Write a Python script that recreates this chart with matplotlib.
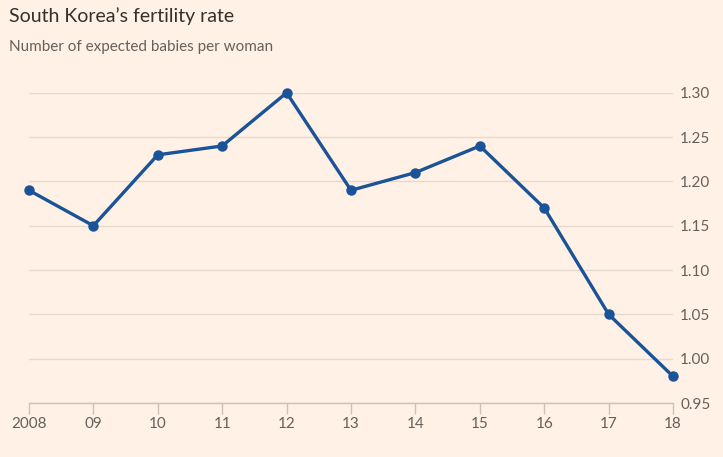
import matplotlib
matplotlib.use("Agg")
import matplotlib.pyplot as plt

# data
years = [2008, 2009, 2010, 2011, 2012, 2013, 2014, 2015, 2016, 2017, 2018]
year_labels = ["2008", "09", "10", "11", "12", "13", "14", "15", "16", "17", "18"]
fertility = [1.19, 1.15, 1.23, 1.24, 1.30, 1.19, 1.21, 1.24, 1.17, 1.05, 0.98]
y_ticks = [0.95, 1.00, 1.05, 1.10, 1.15, 1.20, 1.25, 1.30]

BG = "#FFF1E5"
GRID = "#E6D9CE"
TEXT = "#66605C"
LINE = "#1A5397"

plt.rcParams['font.family'] = ['Lato', 'DejaVu Sans']

fig = plt.figure(figsize=(7.23, 4.57), dpi=100, facecolor=BG)
ax = fig.add_axes([0.040, 0.118, 0.891, 0.679], facecolor=BG)

ax.plot(years, fertility, color=LINE, linewidth=2.4, marker='o', markersize=6.5,
        zorder=3, clip_on=False)

ax.set_xlim(2008, 2018)
ax.set_ylim(0.95, 1.30)
ax.set_xticks(years)
ax.set_xticklabels(year_labels)
ax.set_yticks(y_ticks)
ax.set_yticklabels([f"{v:.2f}" for v in y_ticks])

ax.yaxis.tick_right()
ax.grid(axis='y', color=GRID, linewidth=1)
ax.tick_params(axis='y', length=0, pad=5, labelsize=11, labelcolor=TEXT)
ax.tick_params(axis='x', length=8, width=1, color="#CCC1B7", pad=2, labelsize=11, labelcolor=TEXT)

for s in ['top', 'right', 'left']:
    ax.spines[s].set_visible(False)
ax.spines['bottom'].set_color("#CCC1B7")
ax.spines['bottom'].set_linewidth(1)

fig.text(0.012, 0.965, "South Korea\u2019s fertility rate", fontsize=14, color="#33302E",
         va='center', ha='left')
fig.text(0.012, 0.897, "Number of expected babies per woman", fontsize=11, color=TEXT,
         va='center', ha='left')

fig.savefig("out.png", dpi=100, facecolor=BG)
